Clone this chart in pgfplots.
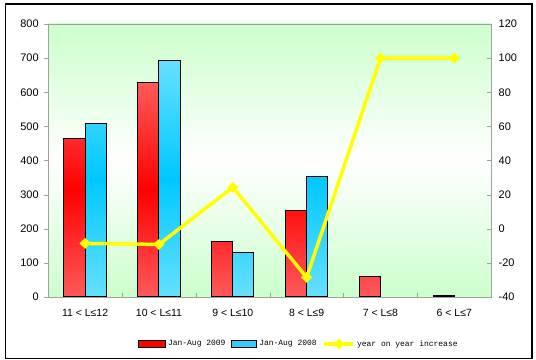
\documentclass[border=0pt]{standalone}
\usepackage{fontspec}
\setmainfont{Liberation Sans}
\newfontfamily\legfont{Liberation Mono}
\usepackage{pgfplots}
\pgfplotsset{compat=1.18}
\definecolor{bggreen}{HTML}{CCFFCC}
\definecolor{redL}{HTML}{FF5A5A}
\definecolor{redM}{HTML}{FF0000}
\definecolor{cyanL}{HTML}{66E0FF}
\definecolor{cyanM}{HTML}{00C8FF}
\definecolor{cyanS}{HTML}{33CCFF}
\definecolor{axgray}{HTML}{A0A0A0}
\definecolor{lineY}{HTML}{FFFF00}
\pgfplotsset{linelegend/.style={legend image code/.code={\draw[mark repeat=2,mark phase=2,##1] plot coordinates {(0bp,0bp)(14.5bp,0bp)(29bp,0bp)};}}}
\begin{document}
\begin{tikzpicture}
\useasboundingbox (0bp,0bp) rectangle (536bp,360bp);
\draw[black, line width=1.2bp] (5.5bp,1.5bp) rectangle (532bp,356bp);
\begin{axis}[
  at={(48.2bp,63bp)}, anchor=south west,
  scale only axis, width=443bp, height=273bp,
  xmin=-0.5, xmax=5.5, ymin=0, ymax=800,
  axis background/.style={top color=bggreen, bottom color=bggreen, middle color=white},
  axis line style={draw=axgray, line width=0.8bp},
  ybar=0pt, bar width=21.2bp,
  xtick={0,1,2,3,4,5},
  xticklabels={11 < L≤12, 10 < L≤11, 9 < L≤10, 8 < L≤9, 7 < L≤8, 6 < L≤7},
  xtick pos=bottom,
  major x tick style={draw=none},
  extra x ticks={0.5,1.5,2.5,3.5,4.5},
  extra x tick labels={},
  extra x tick style={tick align=inside, major tick length=4bp, major x tick style={draw=axgray}},
  ytick={0,100,...,800}, ytick pos=left,
  y tick style={draw=axgray},
  tick align=outside, major tick length=4bp,
  x tick label style={font=\fontsize{10.5}{12}\selectfont, yshift=-5bp},
  y tick label style={font=\fontsize{11}{13}\selectfont, xshift=-2bp},
  /pgf/number format/assume math mode=true,
]
\addplot[draw=black, line width=1bp, top color=redL, bottom color=redL, middle color=redM]
  coordinates {(0,465) (1,629) (2,163) (3,254) (4,61) (5,3)};
\addplot[draw=black, line width=1bp, top color=cyanL, bottom color=cyanL, middle color=cyanM]
  coordinates {(0,509) (1,694) (2,131) (3,354)};
\end{axis}
\begin{axis}[
  at={(48.2bp,63bp)}, anchor=south west,
  scale only axis, width=443bp, height=273bp,
  xmin=-0.5, xmax=5.5, ymin=-40, ymax=120,
  axis x line=none, axis y line*=right,
  y axis line style={draw=axgray, line width=0.8bp},
  ytick={-40,-20,...,120},
  y tick style={draw=axgray},
  tick align=inside, major tick length=4bp,
  y tick label style={font=\fontsize{11}{13}\selectfont, xshift=4bp},
  /pgf/number format/assume math mode=true,
  legend columns=3,
  legend style={at={(0.566,-0.172)}, anchor=center, draw=none, fill=none,
    font=\legfont\fontsize{8}{10}\selectfont,
    /tikz/every even column/.append style={column sep=4bp}},
]
\addlegendimage{legend image code/.code={\draw[fill=redM,draw=black,line width=0.8bp] (0bp,-3.5bp) rectangle (27bp,3.5bp);}}
\addlegendentry{Jan-Aug 2009}
\addlegendimage{legend image code/.code={\draw[fill=cyanS,draw=black,line width=0.8bp] (0bp,-3.5bp) rectangle (25bp,3.5bp);}}
\addlegendentry{Jan-Aug 2008}
\addplot[color=lineY, line width=3.5bp, mark=diamond*, mark size=5bp,
  mark options={xscale=1.4, line width=0.5bp}, linelegend]
  coordinates {(0,-8.6) (1,-9.2) (2,24.3) (3,-28.5) (4,100) (5,100)};
\addlegendentry{year on year increase}
\end{axis}
\end{tikzpicture}
\end{document}
